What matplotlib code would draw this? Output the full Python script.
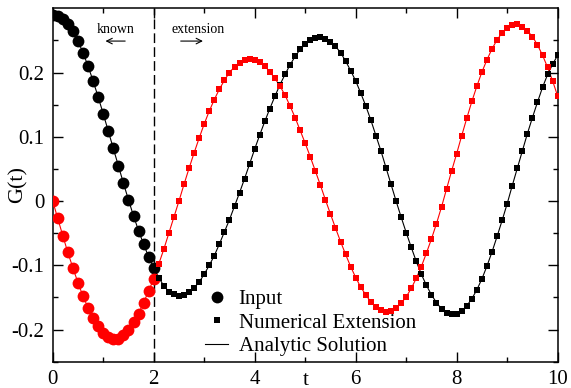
import matplotlib
matplotlib.use("Agg")
import matplotlib.pyplot as plt

plt.rcParams['font.family'] = ['Liberation Serif', 'DejaVu Serif']
plt.rcParams['axes.unicode_minus'] = False

# known region (input points), t = 0 .. 2
t_input = [0.0, 0.1, 0.2, 0.3, 0.4, 0.5, 0.6, 0.7, 0.8, 0.9, 1.0,
           1.1, 1.2, 1.3, 1.4, 1.5, 1.6, 1.7, 1.8, 1.9, 2.0]
re_input = [0.289, 0.288, 0.283, 0.275, 0.264, 0.249, 0.231, 0.210, 0.187, 0.162, 0.136,
            0.109, 0.082, 0.055, 0.028, 0.002, -0.023, -0.046, -0.067, -0.087, -0.104]
im_input = [0.000, -0.027, -0.054, -0.080, -0.104, -0.127, -0.148, -0.166, -0.182, -0.195, -0.206,
            -0.212, -0.215, -0.214, -0.209, -0.201, -0.189, -0.175, -0.158, -0.140, -0.121]

# numerical extension, t = 2.1 .. 10
t_ext = [2.1, 2.2, 2.3, 2.4, 2.5, 2.6, 2.7, 2.8, 2.9, 3.0,
         3.1, 3.2, 3.3, 3.4, 3.5, 3.6, 3.7, 3.8, 3.9, 4.0,
         4.1, 4.2, 4.3, 4.4, 4.5, 4.6, 4.7, 4.8, 4.9, 5.0,
         5.1, 5.2, 5.3, 5.4, 5.5, 5.6, 5.7, 5.8, 5.9, 6.0,
         6.1, 6.2, 6.3, 6.4, 6.5, 6.6, 6.7, 6.8, 6.9, 7.0,
         7.1, 7.2, 7.3, 7.4, 7.5, 7.6, 7.7, 7.8, 7.9, 8.0,
         8.1, 8.2, 8.3, 8.4, 8.5, 8.6, 8.7, 8.8, 8.9, 9.0,
         9.1, 9.2, 9.3, 9.4, 9.5, 9.6, 9.7, 9.8, 9.9, 10.0]
re_ext = [-0.119, -0.132, -0.141, -0.145, -0.147, -0.146, -0.141, -0.135, -0.126, -0.114,
          -0.100, -0.085, -0.067, -0.048, -0.029, -0.008, 0.013, 0.035, 0.058, 0.081,
          0.103, 0.124, 0.144, 0.163, 0.181, 0.197, 0.212, 0.225, 0.236, 0.244,
          0.250, 0.254, 0.255, 0.253, 0.248, 0.241, 0.231, 0.218, 0.203, 0.187,
          0.168, 0.148, 0.126, 0.102, 0.078, 0.052, 0.026, 0.000, -0.025, -0.049,
          -0.072, -0.094, -0.114, -0.131, -0.146, -0.158, -0.168, -0.174, -0.176, -0.175,
          -0.171, -0.163, -0.152, -0.138, -0.121, -0.101, -0.079, -0.055, -0.030, -0.004,
          0.024, 0.051, 0.078, 0.105, 0.130, 0.154, 0.177, 0.197, 0.213, 0.227]
im_ext = [-0.098, -0.075, -0.050, -0.025, 0.000, 0.026, 0.051, 0.075, 0.098, 0.120,
          0.140, 0.158, 0.174, 0.188, 0.200, 0.209, 0.215, 0.219, 0.221, 0.220,
          0.216, 0.210, 0.201, 0.191, 0.179, 0.165, 0.148, 0.130, 0.110, 0.090,
          0.069, 0.047, 0.025, 0.002, -0.020, -0.042, -0.063, -0.083, -0.102, -0.119,
          -0.134, -0.146, -0.157, -0.165, -0.170, -0.172, -0.171, -0.167, -0.159, -0.149,
          -0.136, -0.120, -0.102, -0.081, -0.059, -0.035, -0.009, 0.019, 0.047, 0.074,
          0.102, 0.129, 0.155, 0.179, 0.201, 0.220, 0.237, 0.251, 0.262, 0.270,
          0.274, 0.275, 0.271, 0.265, 0.256, 0.243, 0.227, 0.208, 0.187, 0.163]

x_ticks = [0, 2, 4, 6, 8, 10]
y_ticks = [-0.2, -0.1, 0.0, 0.1, 0.2]
y_ticklabels = ["-0.2", "-0.1", "0", "0.1", "0.2"]
t_known_end = 2.0

fig = plt.figure(figsize=(5.71, 3.88), dpi=100)
ax = fig.add_axes([0.0923, 0.0678, 0.8844, 0.9108])

# analytic solution: thin line through the whole range
t_all = t_input + t_ext
ax.plot(t_all, re_input + re_ext, color='black', lw=0.8, zorder=2)
ax.plot(t_all, im_input + im_ext, color='red', lw=0.8, zorder=2)

# input points
ax.plot(t_input, re_input, 'o', color='black', ms=8.5, mew=0, zorder=3)
ax.plot(t_input, im_input, 'o', color='red', ms=8.5, mew=0, zorder=3)

# numerical extension
ax.plot(t_ext, re_ext, 's', color='black', ms=3.7, mew=0, zorder=3)
ax.plot(t_ext, im_ext, 's', color='red', ms=3.7, mew=0, zorder=3)

ax.axvline(t_known_end, color='black', lw=1.0, ls=(0, (7, 3)), zorder=1)

ax.text(1.25, 0.267, "known", ha='center', va='center', fontsize=10)
ax.annotate("", xy=(0.99, 0.249), xytext=(1.49, 0.249),
            arrowprops=dict(arrowstyle='->', lw=0.8, color='black'))
ax.text(2.88, 0.267, "extension", ha='center', va='center', fontsize=10)
ax.annotate("", xy=(3.03, 0.249), xytext=(2.48, 0.249),
            arrowprops=dict(arrowstyle='->', lw=0.8, color='black'))

ax.set_xlim(0, 10)
ax.set_ylim(-0.25, 0.30)
ax.set_xticks(x_ticks)
ax.set_xticks([1, 3, 5, 7, 9], minor=True)
ax.set_yticks(y_ticks)
ax.set_yticklabels(y_ticklabels)
ax.set_yticks([-0.25, -0.15, -0.05, 0.05, 0.15, 0.25], minor=True)
ax.tick_params(which='both', direction='in', top=True, right=True, labelsize=15, width=1.0)
ax.tick_params(which='major', length=7, pad=6)
ax.tick_params(which='minor', length=3.5)
for s in ax.spines.values():
    s.set_linewidth(1.1)

ax.set_ylabel("G(t)", fontsize=16)
ax.yaxis.set_label_coords(-0.05, 0.5)
ax.set_xlabel("t", fontsize=15)
ax.xaxis.set_label_coords(0.5, -0.025)

h1, = ax.plot([], [], 'o', color='black', ms=8.5, mew=0)
h2, = ax.plot([], [], 's', color='black', ms=3.7, mew=0)
h3, = ax.plot([], [], '-', color='black', lw=0.8)
ax.legend([h1, h2, h3], ["Input", "Numerical Extension", "Analytic Solution"],
          loc='upper left', bbox_to_anchor=(0.302, 0.205), frameon=False,
          fontsize=15, handlelength=1.1, handletextpad=0.5, labelspacing=0.2,
          borderpad=0, borderaxespad=0)

fig.savefig("out.png", dpi=100)
